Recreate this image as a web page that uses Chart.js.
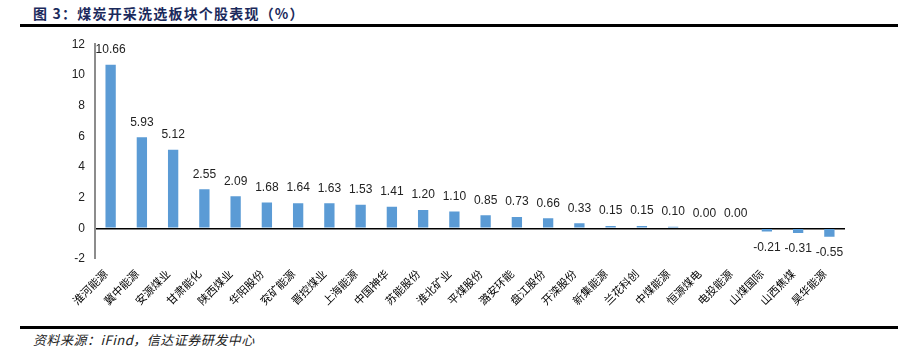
<!DOCTYPE html>
<html>
<head>
<meta charset="utf-8">
<script src="https://cdn.jsdelivr.net/npm/chart.js@4"></script>
<style>
  html, body { margin: 0; padding: 0; background: #fff; width: 911px; height: 357px; overflow: hidden; }
  #title { position: absolute; left: 33px; top: 3px; font-family: "Noto Sans CJK SC", sans-serif; font-weight: bold; font-size: 14px; color: #1b2a5c; letter-spacing: 1.2px; }
  #tline { position: absolute; left: 20px; top: 24px; width: 878px; height: 3px; background: #000; }
  #bline { position: absolute; left: 20px; top: 326px; width: 878px; height: 3px; background: #000; }
  #foot { position: absolute; left: 33px; top: 330px; font-family: "Noto Sans CJK SC", sans-serif; font-style: italic; font-size: 13px; color: #222; letter-spacing: 0.5px; }
  #wrap { position: absolute; left: 20px; top: 27px; width: 880px; height: 291px; }
</style>
</head>
<body>
<div id="title">图 3：煤炭开采洗选板块个股表现（%）</div>
<div id="tline"></div>
<div id="wrap"><canvas id="c"></canvas></div>
<div id="bline"></div>
<div id="foot">资料来源：iFind，信达证券研发中心</div>
<script>
const stockNames = ["淮河能源","冀中能源","安源煤业","甘肃能化","陕西煤业","华阳股份","兖矿能源","晋控煤业","上海能源","中国神华","苏能股份","淮北矿业","平煤股份","潞安环能","盘江股份","开滦股份","新集能源","兰花科创","中煤能源","恒源煤电","电投能源","山煤国际","山西焦煤","昊华能源"];
const changePct = [10.66,5.93,5.12,2.55,2.09,1.68,1.64,1.63,1.53,1.41,1.20,1.10,0.85,0.73,0.66,0.33,0.15,0.15,0.10,0.00,0.00,-0.21,-0.31,-0.55];
const yTicks = [-2,0,2,4,6,8,10,12];

const valueLabels = {
  id: 'valueLabels',
  afterDatasetsDraw(chart) {
    const ctx = chart.ctx;
    const meta = chart.getDatasetMeta(0);
    ctx.save();
    ctx.font = '12px "Liberation Sans", Arial, sans-serif';
    ctx.fillStyle = '#222';
    ctx.textAlign = 'center';
    meta.data.forEach((bar, i) => {
      const v = changePct[i];
      if (v === null || v === undefined) return;
      if (v >= 0) {
        ctx.textBaseline = 'bottom';
        ctx.fillText(v.toFixed(2), bar.x, bar.y - 9);
      } else {
        ctx.textBaseline = 'top';
        ctx.fillText(v.toFixed(2), bar.x, bar.y + 10);
      }
    });
    ctx.restore();
  }
};

new Chart(document.getElementById('c'), {
  type: 'bar',
  data: {
    labels: stockNames,
    datasets: [{
      data: changePct,
      backgroundColor: '#5b9bd5',
      borderWidth: 0,
      categoryPercentage: 1,
      barPercentage: 0.33
    }]
  },
  options: {
    responsive: true,
    maintainAspectRatio: false,
    animation: false,
    layout: { padding: { top: 0, right: 55, left: 0, bottom: 0 } },
    plugins: { legend: { display: false }, tooltip: { enabled: false }, title: { display: false } },
    scales: {
      x: {
        grid: { display: false, drawTicks: false },
        border: { display: false },
        ticks: {
          color: '#000',
          font: { family: '"Noto Sans CJK SC", sans-serif', size: 11 },
          minRotation: 45, maxRotation: 45, padding: 8, labelOffset: -5, autoSkip: false
        },
        afterFit(scale) { scale.height = 59; }
      },
      y: {
        min: -2, max: 12,
        afterBuildTicks(scale) { scale.ticks = yTicks.map(v => ({ value: v })); },
        grid: {
          drawTicks: false,
          color: ctx => (ctx.tick && ctx.tick.value === 0) ? '#000' : 'rgba(0,0,0,0)',
          lineWidth: ctx => (ctx.tick && ctx.tick.value === 0) ? 1.5 : 0
        },
        border: { display: true, color: '#8c8c8c', width: 2 },
        ticks: {
          color: '#222',
          font: { family: '"Liberation Sans", Arial, sans-serif', size: 12 },
          padding: 10
        },
        afterFit(scale) { scale.width = 75; }
      }
    }
  },
  plugins: [valueLabels]
});
</script>
</body>
</html>
